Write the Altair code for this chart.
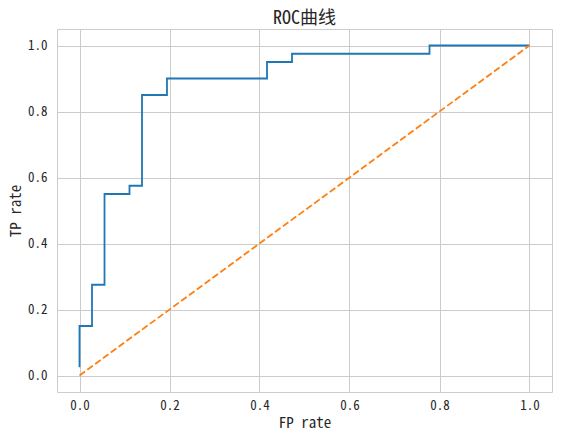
import altair as alt
import pandas as pd

fpr = [0.0, 0.0, 0.0278, 0.0278, 0.0556, 0.0556, 0.1111, 0.1111, 0.1389, 0.1389,
       0.1944, 0.1944, 0.4167, 0.4167, 0.4722, 0.4722, 0.7778, 0.7778, 1.0]
tpr = [0.025, 0.15, 0.15, 0.275, 0.275, 0.55, 0.55, 0.575, 0.575, 0.85,
       0.85, 0.9, 0.9, 0.95, 0.95, 0.975, 0.975, 1.0, 1.0]
diag_x = [0.0, 1.0]
diag_y = [0.0, 1.0]

roc = pd.DataFrame({"fpr": fpr, "tpr": tpr, "i": list(range(len(fpr)))})
diag = pd.DataFrame({"fpr": diag_x, "tpr": diag_y, "i": [0, 1]})

FONT = "Noto Sans Mono CJK SC, Noto Sans CJK SC, sans-serif"

xs = alt.Scale(domain=[-0.05, 1.05], nice=False, zero=False)
ys = alt.Scale(domain=[-0.05, 1.05], nice=False, zero=False)
vals = [0.0, 0.2, 0.4, 0.6, 0.8, 1.0]

xaxis = alt.Axis(title="FP rate", values=vals, format=".1f", grid=True, ticks=False,
                 domain=False, labelPadding=7, titlePadding=3)
yaxis = alt.Axis(title="TP rate", values=vals, format=".1f", grid=True, ticks=False,
                 domain=False, labelPadding=10, titlePadding=4)

line = alt.Chart(roc).mark_line(color="#1f77b4", strokeWidth=1.8).encode(
    x=alt.X("fpr:Q", scale=xs, axis=xaxis),
    y=alt.Y("tpr:Q", scale=ys, axis=yaxis),
    order="i:Q",
)

dash = alt.Chart(diag).mark_line(color="#ff7f0e", strokeWidth=1.8, strokeDash=[6.8, 2.9]).encode(
    x=alt.X("fpr:Q", scale=xs),
    y=alt.Y("tpr:Q", scale=ys),
    order="i:Q",
)

chart = alt.layer(line, dash).properties(
    width=495,
    height=363,
    title=alt.TitleParams("ROC曲线", fontSize=18, font=FONT, fontWeight="normal",
                          color="#262626", offset=1),
    autosize=alt.AutoSizeParams(type="none"),
    padding={"left": 49, "top": 21, "right": 3, "bottom": 38},
).configure_axis(
    gridColor="#cccccc",
    gridWidth=1,
    labelFont=FONT,
    labelFontSize=13,
    labelColor="#262626",
    titleFont=FONT,
    titleFontSize=15,
    titleFontWeight="normal",
    titleColor="#262626",
).configure_view(
    stroke="#cccccc",
    strokeWidth=1,
)

chart.save("out.html", embed_options={"renderer": "svg", "actions": False})
